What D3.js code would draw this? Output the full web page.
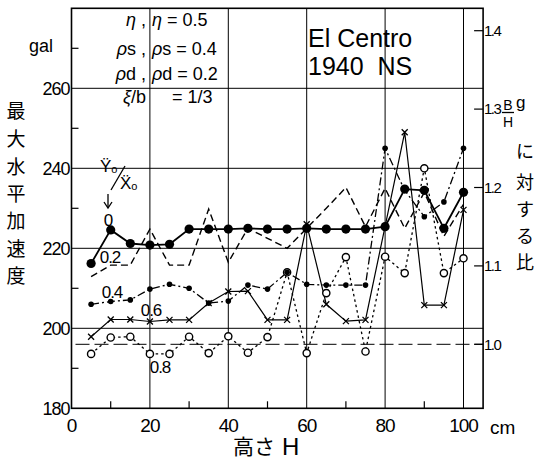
<!DOCTYPE html>
<html><head><meta charset="utf-8">
<script src="https://cdn.jsdelivr.net/npm/d3@7"></script>
<style>body{margin:0;background:#fff}</style>
</head><body>
<svg id="c" width="537" height="462"></svg>
<script>
// ---- data ----
const heights = [5,10,15,20,25,30,35,40,45,50,55,60,65,70,75,80,85,90,95,100];
const s00 = [216.2,224.6,221.2,220.8,221.0,224.8,224.8,224.8,225.0,224.8,224.8,225.0,224.8,224.8,224.8,225.4,234.8,234.5,225.0,234.0];
const s02 = [212.9,215.8,215.8,224.8,215.8,215.8,229.8,216.5,225.0,222.5,220.0,225.0,230.0,235.2,225.4,235.0,225.0,234.0,223.0,231.0];
const s04 = [206.0,206.7,207.1,209.8,211.0,210.0,206.3,206.8,210.8,209.8,214.0,211.0,210.8,210.8,210.8,245.0,234.5,227.9,231.6,245.0];
const s06 = [197.9,202.2,202.2,201.7,202.1,202.1,206.3,209.2,209.3,202.1,202.1,226.0,206.0,201.8,202.1,225.5,249.0,205.8,205.8,229.6];
const s08 = [193.6,197.7,197.9,193.6,193.6,197.9,193.8,198.0,193.9,197.8,214.0,193.8,208.8,217.8,194.2,217.9,213.8,240.0,213.8,217.5];
const seriesLabels = ["0","0.2","0.4","0.6","0.8"];
const xTicks = [0,20,40,60,80,100];
const yTicks = [180,200,220,240,260];
const ratioTicks = [1.0,1.1,1.2,1.3,1.4];
const refGal = 196;

const svg = d3.select("#c");
const x = d3.scaleLinear().domain([0,105]).range([71.5,483.1]);
const y = d3.scaleLinear().domain([180,280]).range([408.3,8.3]);
const yR = d3.scaleLinear().domain([180/refGal,280/refGal]).range([408.3,8.3]);
const num = "'Liberation Sans', Arial, sans-serif";
const jp = "'Noto Sans CJK JP', sans-serif";

// grid
const g = svg.append("g").attr("stroke","#000").attr("fill","none");
[200,220,240,260].forEach(v=>g.append("line").attr("x1",x(0)).attr("x2",x(105)).attr("y1",y(v)).attr("y2",y(v)).attr("stroke-width",1));
[20,40,60,80,100].forEach(v=>g.append("line").attr("x1",x(v)).attr("x2",x(v)).attr("y1",y(180)).attr("y2",y(280)).attr("stroke-width",1));
// minor ticks
[190,210,230,250,270].forEach(v=>g.append("line").attr("x1",x(0)).attr("x2",x(0)+7).attr("y1",y(v)).attr("y2",y(v)).attr("stroke-width",1.2));
[10,30,50,70,90].forEach(v=>g.append("line").attr("x1",x(v)).attr("x2",x(v)).attr("y1",y(180)).attr("y2",y(180)-7).attr("stroke-width",1.2));
ratioTicks.forEach(v=>g.append("line").attr("x1",x(105)-9).attr("x2",x(105)).attr("y1",yR(v)).attr("y2",yR(v)).attr("stroke-width",1.2));
// frame
g.append("rect").attr("x",x(0)).attr("y",y(280)).attr("width",x(105)-x(0)).attr("height",y(180)-y(280)).attr("stroke-width",1.6);
// reference line
g.append("line").attr("x1",x(0)+4).attr("x2",x(105)).attr("y1",y(refGal)).attr("y2",y(refGal)).attr("stroke-width",1).attr("stroke-dasharray","14,5");

// axes labels
const ylab = svg.append("g").attr("font-family",num).attr("font-size",18).attr("text-anchor","end");
yTicks.forEach(v=>ylab.append("text").attr("x",x(0)-2).attr("y",y(v)).attr("dy","0.35em").attr("letter-spacing","-1").text(v));
const xlab = svg.append("g").attr("font-family",num).attr("font-size",19).attr("text-anchor","middle");
xTicks.forEach(v=>xlab.append("text").attr("x",x(v)).attr("y",425).attr("dy","0.35em").attr("letter-spacing","-1").text(v));
svg.append("text").attr("x",490).attr("y",427).attr("dy","0.35em").attr("font-family",num).attr("font-size",19).text("cm");
const rlab = svg.append("g").attr("font-family",num).attr("font-size",15);
ratioTicks.forEach(v=>rlab.append("text").attr("x",484).attr("y",yR(v)).attr("dy","0.35em").attr("letter-spacing","-1.5").text(v.toFixed(1)));
svg.append("text").attr("x",29).attr("y",46).attr("dy","0.35em").attr("font-family",num).attr("font-size",18).text("gal");

// left title
const ltit = ["最","大","水","平","加","速","度"];
const ltY = [111,139,167,194,221,249,276];
ltit.forEach((c,i)=>svg.append("text").attr("x",16).attr("y",ltY[i]).attr("dy","0.35em").attr("text-anchor","middle").attr("font-family",jp).attr("font-size",19).text(c));
// right title
svg.append("text").attr("x",508).attr("y",110).attr("text-anchor","middle").attr("font-family",num).attr("font-size",14).text("B");
svg.append("line").attr("x1",502).attr("x2",514).attr("y1",112.5).attr("y2",112.5).attr("stroke","#000").attr("stroke-width",1.3);
svg.append("text").attr("x",508).attr("y",127).attr("text-anchor","middle").attr("font-family",num).attr("font-size",14).text("H");
svg.append("text").attr("x",516).attr("y",108).attr("font-family",num).attr("font-size",17).text("g");
const rtit = ["に","対","す","る","比"];
const rtY = [152,183,210,237,263];
rtit.forEach((c,i)=>svg.append("text").attr("x",525).attr("y",rtY[i]).attr("dy","0.35em").attr("text-anchor","middle").attr("font-family",jp).attr("font-size",18).text(c));
// bottom title
svg.append("text").attr("x",233).attr("y",447).attr("dy","0.35em").attr("font-family",jp).attr("font-size",21).text("高さ");
svg.append("text").attr("x",282).attr("y",447).attr("dy","0.35em").attr("font-family",num).attr("font-size",24).attr("font-weight",300).text("H");

// parameter legend
const pl = svg.append("g").attr("font-family",num).attr("font-size",18);
const leftP = [["η",""," ,"],["ρ","s"," ,"],["ρ","d"," ,"],["ξ","/b",""]];
const rightP = [["η",""," = 0.5",152],["ρ","s"," = 0.4",152],["ρ","d"," = 0.2",152],["","","= 1/3",172]];
const pY = [20,49,74,97];
leftP.forEach((p,i)=>{
  const t = pl.append("text").attr("x",146).attr("y",pY[i]).attr("dy","0.35em").attr("text-anchor","end").attr("font-style","italic");
  t.append("tspan").text(p[0]);
  t.append("tspan").attr("font-style","normal").text(p[1]);
  t.append("tspan").attr("font-style","normal").text(p[2]);
});
rightP.forEach((p,i)=>{
  const t = pl.append("text").attr("x",p[3]).attr("y",pY[i]).attr("dy","0.35em");
  t.append("tspan").attr("font-style","italic").text(p[0]);
  t.append("tspan").text(p[1]);
  t.append("tspan").text(p[2]);
});
// El Centro
svg.append("text").attr("x",308).attr("y",47).attr("font-family",num).attr("font-size",25).text("El Centro");
svg.append("text").attr("x",308).attr("y",75).attr("font-family",num).attr("font-size",25).attr("xml:space","preserve").text("1940  NS");

// series
const line = d3.line().x((d,i)=>x(heights[i])).y(d=>y(d));
const P = svg.append("g").attr("fill","none").attr("stroke","#000");
P.append("path").datum(s08).attr("d",line).attr("stroke-width",1.3).attr("stroke-dasharray","2.5,3");
P.append("path").datum(s06).attr("d",line).attr("stroke-width",1.2);
P.append("path").datum(s04).attr("d",line).attr("stroke-width",1.3).attr("stroke-dasharray","8,3,2,3");
P.append("path").datum(s02).attr("d",line).attr("stroke-width",1.4).attr("stroke-dasharray","7,4");
P.append("path").datum(s00).attr("d",line).attr("stroke-width",1.8);

svg.append("g").selectAll("circle").data(s08).join("circle")
  .attr("cx",(d,i)=>x(heights[i])).attr("cy",d=>y(d)).attr("r",3.6).attr("fill","#fff").attr("stroke","#000").attr("stroke-width",1.4);
svg.append("g").selectAll("path").data(s06).join("path")
  .attr("d",(d,i)=>{const cx=x(heights[i]),cy=y(d),s=3;return `M${cx-s},${cy-s}L${cx+s},${cy+s}M${cx-s},${cy+s}L${cx+s},${cy-s}`;})
  .attr("stroke","#000").attr("stroke-width",1.3);
svg.append("g").selectAll("circle").data(s04).join("circle")
  .attr("cx",(d,i)=>x(heights[i])).attr("cy",d=>y(d)).attr("r",2.8).attr("fill","#000");
svg.append("g").selectAll("circle").data(s00).join("circle")
  .attr("cx",(d,i)=>x(heights[i])).attr("cy",d=>y(d)).attr("r",4.6).attr("fill","#000");

// series labels
const sl = svg.append("g").attr("font-family",num).attr("font-size",17);
const slPos = [[108,220],[110,257],[112,292],[151,310],[160,367]];
seriesLabels.forEach((t,i)=>sl.append("text").attr("x",slPos[i][0]).attr("y",slPos[i][1]).attr("dy","0.35em").attr("text-anchor","middle").attr("letter-spacing","-1").text(t));
// Ÿo/Ẍo
svg.append("text").attr("x",100).attr("y",172).attr("font-family",num).attr("font-size",17).html("Ÿ<tspan font-size='11' dy='1'>o</tspan>");
svg.append("line").attr("x1",111).attr("x2",125).attr("y1",190).attr("y2",166).attr("stroke","#000").attr("stroke-width",1.3);
svg.append("text").attr("x",120).attr("y",189).attr("font-family",num).attr("font-size",17).html("Ẍ<tspan font-size='11' dy='1'>o</tspan>");
// arrow
svg.append("line").attr("x1",108).attr("x2",108).attr("y1",194).attr("y2",207).attr("stroke","#000").attr("stroke-width",1.3);
svg.append("path").attr("d","M104,202L108,208L112,202").attr("fill","none").attr("stroke","#000").attr("stroke-width",1.3);
</script>
</body></html>
